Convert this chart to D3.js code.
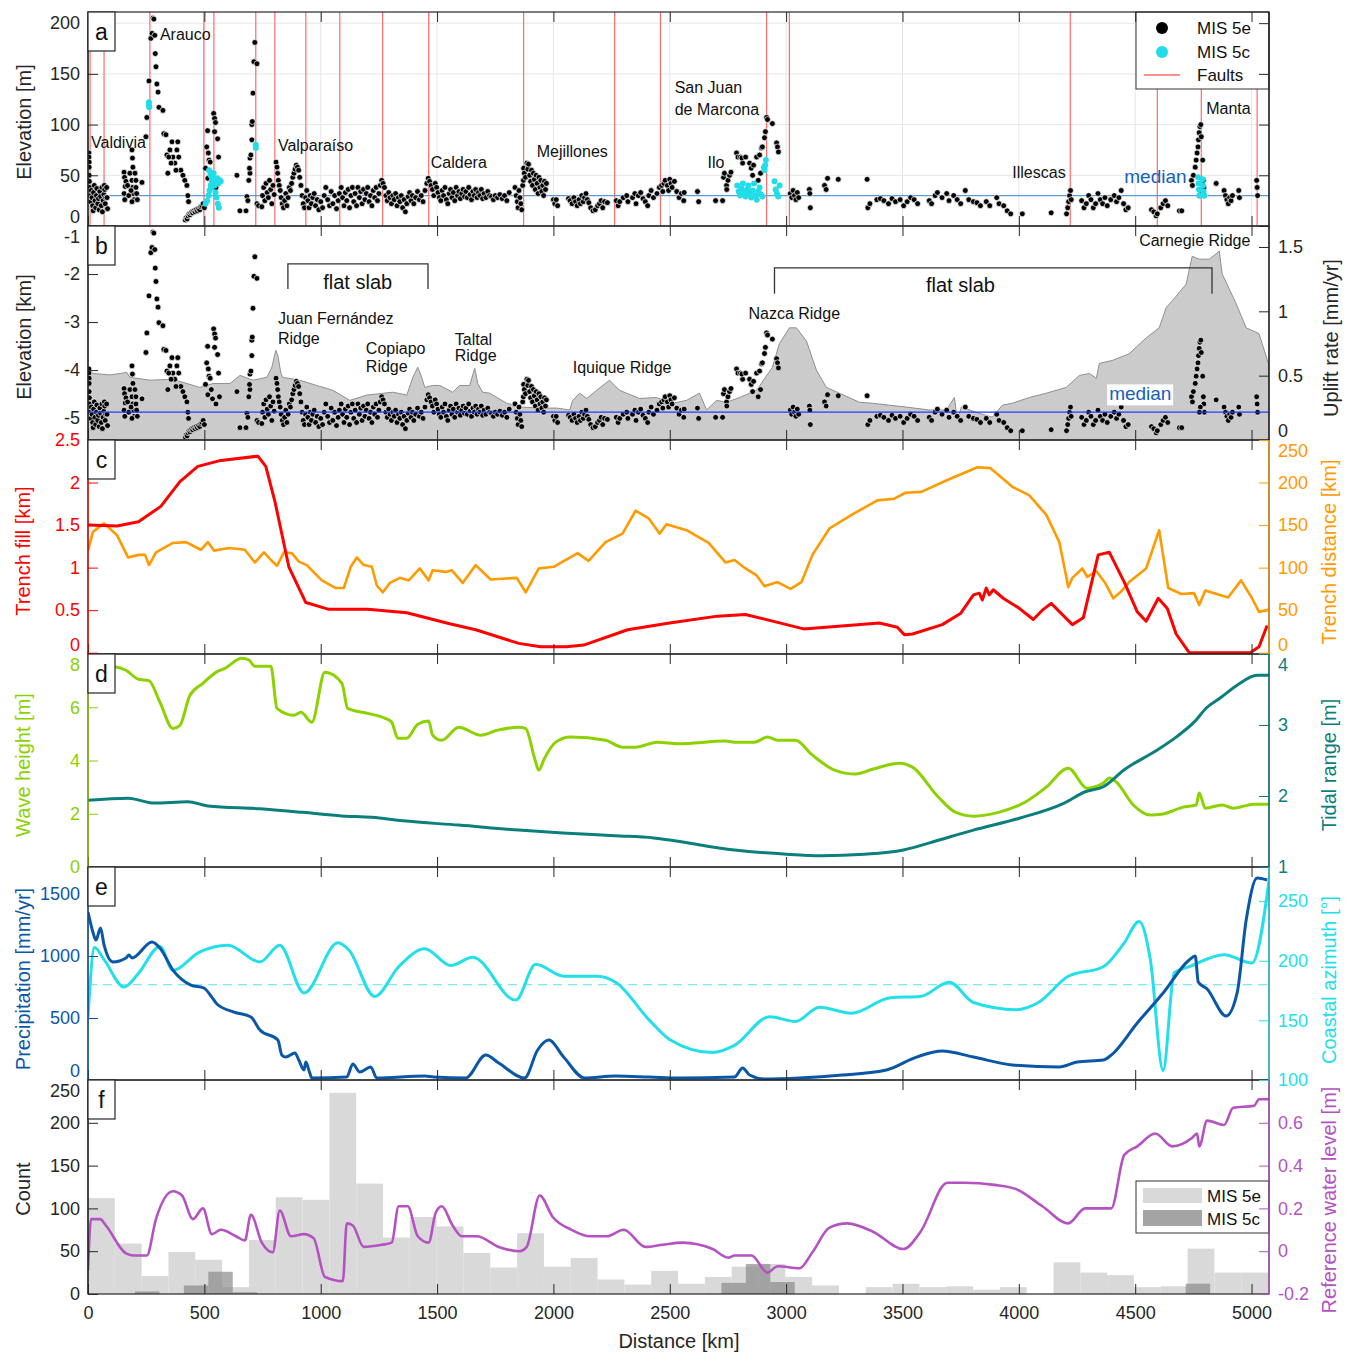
<!DOCTYPE html>
<html>
<head>
<meta charset="utf-8">
<script src="https://cdn.jsdelivr.net/npm/d3@7"></script>
<style>
  body { margin: 0; background: #fff; }
  text { font-family: "Liberation Sans", Arial, sans-serif; }
</style>
</head>
<body>
<svg id="chart" width="1349" height="1352"></svg>
<script>
// ---- data (distance along coast in km) ----
const faultKm = [9, 69, 266, 498, 541, 721, 803, 936, 1082, 1266, 1464, 1872, 2263, 2460, 2916, 3014, 4221, 4595, 4784, 5024];

// MIS 5e terrace elevations [km, m]
const mis5e = [
  [4,72],[4,68],[5,63],[5,58],[5,50],[6,44],[8,38],[10,30],[12,24],[14,35],[17,28],[20,20],[22,15],[24,33],[27,40],[30,25],[33,18],[36,30],[38,37],[42,22],[45,27],[48,16],[51,34],[54,29],[57,20],[60,38],[62,14],[65,25],[68,31],[70,40],[72,36],[74,22],[76,28],[80,38],[82,28],[84,17],
  [155,53],[157,48],[155,32],[158,26],[160,39],[163,44],[180,52],[189,75],[191,67],[193,58],[189,45],[192,38],[195,32],[198,26],[202,52],[206,45],[206,38],[209,32],[212,26],[189,24],[232,43],[170,40],[175,30],[185,35],
  [249,88],[253,107],[262,143],[270,185],[275,190],[279,205],[283,204],[287,188],[289,170],[292,157],[296,140],[301,132],[305,117],[322,114],[326,91],
  [335,90],[339,70],[343,52],[352,75],[361,83],[365,68],[373,62],[382,75],[386,83],[390,68],[399,55],[408,50],[416,45],[425,40],[429,30],[432,24],[347,68],[357,62],[378,55],
  [418,6],[422,8],[426,7],[430,10],[434,12],[438,11],[442,13],[446,14],[450,13],[455,15],[460,14],[465,16],[470,15],[475,17],[480,16],[485,19],[490,20],[495,22],[500,18],
  [505,57],[510,78],[514,94],[517,72],[520,65],[525,63],[540,111],[544,106],[548,102],[544,93],[557,86],[561,68],[515,47],[530,52],[535,43],[550,38],[565,45],
  [640,50],[653,15],[679,15],[683,29],[687,25],[691,45],[696,52],[694,57],[696,67],[700,70],[704,85],[704,100],[706,103],[709,131],[713,162],[717,181],[726,160],[726,22],[733,20],[747,19],
  [750,30],[755,38],[760,25],[765,42],[770,33],[775,28],[780,45],[785,36],[790,22],[795,40],[800,31],
  [808,63],[812,58],[815,52],[818,45],[822,40],[826,35],[830,28],[835,22],[840,18],[845,25],[850,32],[855,20],[860,28],[865,38],
  [870,35],[875,42],[880,48],[885,52],[890,56],[895,60],[900,58],[905,55],[910,48],[915,40],[920,30],[925,22],[930,18],[935,28],
  [940,35],[945,25],[950,18],[955,30],[960,22],[966,28],[972,32],[978,20],[985,26],[992,16],[1000,24],[1008,18],[1015,30],[1022,38],[1030,26],[1038,20],[1045,34],[1052,22],[1060,30],[1068,17],[1075,25],[1080,32],
  [1088,38],[1094,28],[1100,20],[1106,33],[1112,25],[1118,36],[1124,18],[1130,30],[1136,38],[1142,24],[1148,32],[1154,20],[1160,38],[1166,28],[1172,34],[1178,22],[1184,36],[1190,26],[1196,32],[1202,38],[1208,24],[1214,30],[1220,20],[1226,35],[1232,28],[1238,38],[1244,25],[1250,32],[1256,40],[1262,45],
  [1268,42],[1274,38],[1280,30],[1286,25],[1292,33],[1298,28],[1304,22],[1310,30],[1316,26],[1322,32],[1328,20],[1334,28],[1340,24],[1346,30],[1352,18],[1358,26],[1364,14],[1370,22],[1376,29],[1382,33],[1388,25],[1394,30],[1400,22],[1408,28],[1416,34],[1424,26],[1432,30],[1440,24],[1448,35],[1456,42],[1462,47],
  [1468,44],[1474,40],[1480,36],[1486,30],[1492,42],[1498,38],[1504,33],[1510,28],[1516,25],[1522,35],[1528,30],[1534,38],[1540,26],[1546,22],[1552,32],[1558,36],[1564,28],[1570,33],[1576,25],[1582,38],[1588,30],[1594,34],[1600,27],[1606,32],[1612,36],[1618,29],[1624,34],[1630,28],[1636,38],[1642,31],[1648,26],[1654,34],[1660,30],[1666,36],[1672,28],[1678,33],[1684,30],[1690,36],[1696,27],[1702,32],[1710,28],[1718,34],[1726,30],[1734,29],[1742,26],[1750,30],[1760,28],[1770,31],[1780,27],[1790,30],[1800,25],[1810,33],
  [1835,38],[1840,30],[1845,24],[1848,18],[1852,35],[1856,28],[1860,22],[1864,16],[1868,40],[1871,45],
  [1872,57],[1875,52],[1880,48],[1886,62],[1890,56],[1893,61],[1898,50],[1902,44],[1906,55],[1910,40],[1914,52],[1918,46],[1922,36],[1926,50],[1930,42],[1934,32],[1938,48],[1942,38],[1946,45],[1950,34],[1954,40],[1958,30],[1962,44],[1966,36],[1970,42],
  [2000,26],[2006,22],[2012,26],[2018,20],
  [2065,27],[2072,25],[2080,22],[2088,28],[2095,24],[2102,20],[2110,26],[2116,22],[2122,30],[2128,24],[2134,28],[2140,32],[2146,26],[2152,23],[2160,18],[2170,15],[2180,16],[2190,20],[2198,22],[2205,25],[2212,18],[2220,24],[2232,23],
  [2270,25],[2278,20],[2285,24],[2300,28],[2315,30],[2320,24],[2340,28],[2350,32],[2355,22],[2365,30],[2375,33],[2385,27],[2395,24],[2405,20],[2410,30],[2420,35],[2430,28],[2445,32],[2455,38],
  [2465,40],[2470,34],[2475,42],[2480,45],[2490,40],[2495,35],[2500,46],[2505,42],[2510,38],[2520,44],[2530,34],[2540,28],[2550,32],[2560,25],[2562,33],[2619,34],[2624,24],[2697,25],[2727,25],
  [2731,48],[2735,52],[2744,40],[2750,45],[2757,50],[2763,53],[2787,72],[2793,68],[2804,68],[2813,62],[2810,67],[2826,68],[2843,62],[2850,57],[2856,50],[2860,60],[2873,68],[2886,70],[2894,77],[2898,78],[2907,87],[2911,93],[2916,107],[2920,105],[2941,101],[2959,82],[2963,78],[2967,73],[2880,45],[2890,52],[2745,36],
  [3018,32],[3024,28],[3030,35],[3036,30],[3042,26],[3048,33],[3054,28],
  [3100,36],[3102,32],[3104,18],[3165,40],[3172,36],[3178,47],[3224,46],[3348,46],[3351,18],[3360,22],[3390,26],[3405,27],
  [3420,25],[3440,22],[3455,27],[3470,24],[3490,26],[3505,20],[3520,24],[3535,28],[3550,26],[3565,22],
  [3615,25],[3625,22],[3640,30],[3650,33],[3670,28],[3690,32],[3700,25],[3720,30],[3735,26],[3750,22],[3770,35],[3785,26],[3805,24],[3820,23],[3835,20],
  [3860,24],[3875,20],[3905,28],[3915,22],[3935,20],[3950,15],[3965,12],[4015,12],[4139,13],
  [4205,12],[4210,18],[4214,24],[4218,30],[4222,35],[4225,26],
  [4270,25],[4280,18],[4290,22],[4300,30],[4310,26],[4320,18],[4330,22],[4340,32],[4350,26],[4360,22],[4370,28],[4380,20],[4395,26],[4410,30],[4420,24],[4430,28],[4440,35],[4450,22],[4460,16],[4470,18],
  [4570,16],[4580,14],[4590,10],[4595,12],[4610,18],[4620,22],[4630,25],[4640,20],[4690,15],[4700,15],
  [4742,45],[4746,40],[4750,50],[4758,58],[4762,65],[4766,72],[4770,78],[4772,85],[4775,92],[4778,98],[4782,100],[4784,88],[4790,65],[4793,45],[4795,38],[4797,30],[4780,35],[4776,30],
  [4848,42],[4882,35],[4888,30],[4894,26],[4900,22],[4906,28],[4912,25],[4918,30],[4945,35],[4948,28],[5022,45],[5024,38],[5026,30]
];

// MIS 5c terrace elevations [km, m]
const mis5c = [
  [262,119],[262,122],[263,117],
  [505,22],[512,25],[518,30],[522,35],[527,40],[532,45],[536,48],[540,52],[544,40],[548,33],[552,28],[558,22],[562,18],[520,55],[526,50],[530,38],[546,44],[555,47],[560,42],[566,45],[570,44],
  [721,80],[721,77],
  [2790,40],[2796,34],[2802,30],[2808,37],[2814,42],[2820,33],[2826,29],[2832,36],[2838,40],[2844,32],[2850,28],[2856,35],[2862,42],[2868,30],[2874,26],[2880,34],[2886,38],[2892,31],[2898,29],
  [2905,58],[2907,55],[2910,60],[2913,65],[2950,44],[2955,36],[2960,32],[2966,29],[2972,40],
  [4770,48],[4772,42],[4774,36],[4776,30],[4790,46],[4792,40],[4794,34],[4796,30]
];
const medianElev = 30;
const mis5eAgeKa = 125;
const mis5eSeaLevel = 3;

// seafloor depth near trench [km, km]
const seafloor = [
  [0,-3.94],[21,-4.07],[94,-4.1],[167,-4.05],[180,-4.15],[266,-4.21],[365,-4.19],[425,-4.28],[481,-4.36],[537,-4.28],[610,-4.28],[653,-4.11],[709,-4.21],[769,-4.15],[790,-3.94],[807,-3.59],[816,-3.7],[829,-4.07],[837,-4.15],
  [910,-4.21],[983,-4.32],[1052,-4.42],[1125,-4.63],[1198,-4.52],[1310,-4.46],[1370,-4.52],[1396,-4.15],[1417,-3.94],[1434,-4.15],[1447,-4.36],[1481,-4.32],[1512,-4.32],[1567,-4.46],[1597,-4.32],[1640,-4.32],[1662,-3.96],[1675,-4.28],[1696,-4.46],
  [1726,-4.48],[1799,-4.69],[1868,-4.77],[1941,-4.79],[2014,-4.79],[2070,-4.83],[2083,-4.63],[2113,-4.48],[2143,-4.59],[2186,-4.42],[2241,-4.21],[2284,-4.42],[2314,-4.48],[2370,-4.59],[2443,-4.57],[2512,-4.69],[2572,-4.63],[2628,-4.48],[2658,-4.83],
  [2701,-4.63],[2744,-4.67],[2800,-4.57],[2873,-4.42],[2941,-3.94],[2971,-3.45],[3014,-3.12],[3044,-3.12],[3087,-3.39],[3130,-4.0],[3173,-4.36],[3229,-4.48],[3315,-4.67],[3371,-4.69],[3444,-4.73],[3517,-4.77],[3616,-4.83],[3689,-4.83],
  [3723,-4.57],[3736,-5.04],[3753,-4.77],[3830,-4.9],[3886,-4.98],[3929,-4.73],[3972,-4.69],[4045,-4.57],[4118,-4.48],[4204,-4.36],[4260,-4.11],[4303,-4.07],[4333,-4.17],[4346,-3.86],[4401,-3.8],[4474,-3.66],[4547,-3.33],[4603,-3.12],
  [4633,-2.7],[4659,-2.56],[4719,-2.21],[4745,-1.63],[4775,-1.69],[4818,-1.69],[4848,-1.58],[4861,-1.52],[4874,-2.0],[4934,-2.62],[4977,-3.12],[5032,-3.24],[5075,-3.9]
];

const trenchFill = [
  [0,1.50],[125,1.49],[217,1.54],[313,1.72],[395,2.01],[472,2.19],[571,2.26],[730,2.31],[764,2.19],[803,1.78],[863,1.01],[936,0.59],[1035,0.51],[1202,0.51],[1370,0.47],[1554,0.34],[1666,0.27],[1851,0.11],[1945,0.07],[2057,0.07],[2130,0.09],
  [2319,0.27],[2499,0.35],[2705,0.43],[2825,0.45],[3075,0.28],[3401,0.35],[3478,0.30],[3508,0.21],[3543,0.22],[3671,0.33],[3749,0.46],[3805,0.68],[3830,0.70],[3843,0.62],[3860,0.76],[3873,0.68],[3890,0.74],[3933,0.64],[3998,0.53],
  [4062,0.39],[4101,0.50],[4139,0.58],[4230,0.33],[4277,0.41],[4341,1.15],[4389,1.18],[4453,0.83],[4509,0.48],[4547,0.37],[4599,0.64],[4638,0.52],[4676,0.22],[4732,0.0],[4994,0.0],[5032,0.07],[5067,0.32]
];
const trenchDistance = [
  [0,120],[21,142],[69,152],[125,138],[172,112],[217,115],[245,115],[262,103],[292,118],[365,129],[421,130],[485,121],[515,130],[541,120],[605,123],[674,121],[717,106],[756,118],[786,109],[812,102],[842,118],[876,117],[906,107],[940,103],
  [1005,85],[1065,76],[1099,76],[1129,101],[1155,112],[1185,103],[1220,101],[1241,79],[1267,71],[1297,82],[1340,88],[1378,85],[1426,99],[1464,85],[1481,97],[1537,95],[1563,97],[1610,82],[1666,103],[1730,86],[1842,88],[1881,71],[1937,99],
  [2001,101],[2104,117],[2151,108],[2224,130],[2297,140],[2353,167],[2409,158],[2456,140],[2486,151],[2572,144],[2667,129],[2740,106],[2778,109],[2825,99],[2873,91],[2907,78],[2963,83],[3019,75],[3066,83],[3113,115],[3186,146],[3281,162],
  [3392,179],[3465,181],[3513,188],[3581,189],[3693,203],[3822,218],[3877,217],[3972,195],[4045,185],[4118,162],[4174,130],[4204,89],[4212,77],[4230,88],[4273,99],[4294,89],[4333,96],[4371,82],[4406,64],[4436,71],[4474,83],[4547,99],
  [4603,144],[4642,76],[4698,69],[4753,70],[4775,56],[4801,73],[4899,65],[4955,85],[5002,64],[5032,48],[5080,51]
];
const waveHeight = [
  [0,7.57],[125,7.5],[163,7.39],[217,7.05],[262,7.0],[309,6.19],[365,5.2],[395,5.32],[438,6.45],[494,6.9],[550,7.31],[588,7.46],[661,7.84],[691,7.78],[717,7.54],[786,7.54],[812,5.96],[885,5.7],[915,5.81],[962,5.44],[1018,7.31],[1091,6.9],
  [1116,5.96],[1202,5.77],[1275,5.59],[1305,5.44],[1331,4.84],[1370,4.84],[1417,5.36],[1464,5.48],[1481,4.95],[1520,4.76],[1593,5.25],[1688,4.95],[1761,5.14],[1851,5.25],[1881,5.2],[1919,4.09],[1937,3.64],[1962,4.09],[2010,4.69],
  [2074,4.88],[2224,4.76],[2297,4.5],[2353,4.5],[2447,4.69],[2538,4.63],[2740,4.73],[2778,4.69],[2864,4.69],[2920,4.88],[2963,4.76],[3040,4.76],[3113,4.2],[3208,3.64],[3298,3.49],[3375,3.68],[3487,3.9],[3543,3.75],[3654,2.63],
  [3727,2.06],[3805,1.91],[3916,2.06],[4028,2.44],[4118,3.0],[4212,3.71],[4294,2.96],[4363,3.15],[4389,3.34],[4419,3.19],[4492,2.33],[4565,1.95],[4620,1.99],[4706,2.25],[4762,2.33],[4775,2.78],[4801,2.21],[4874,2.33],[4921,2.21],[5011,2.36],[5080,2.36]
];
const tidalRange = [
  [0,1.94],[172,1.97],[283,1.9],[429,1.92],[515,1.86],[739,1.82],[923,1.77],[1091,1.72],[1220,1.70],[1353,1.65],[1593,1.59],[1851,1.52],[2040,1.48],[2263,1.44],[2430,1.41],[2499,1.38],[2778,1.24],[3002,1.18],[3152,1.16],
  [3336,1.18],[3504,1.24],[3616,1.34],[3805,1.52],[4006,1.69],[4195,1.9],[4285,2.06],[4363,2.13],[4453,2.37],[4586,2.63],[4676,2.83],[4753,3.04],[4809,3.25],[4865,3.38],[4938,3.56],[5024,3.7],[5080,3.7]
];
const precipitation = [
  [0,1355],[21,1194],[34,1129],[54,1226],[69,1089],[107,952],[163,984],[176,1008],[189,984],[275,1113],[309,1065],[365,887],[442,766],[498,742],[532,669],[554,613],[627,548],[700,508],[739,403],[816,322],[833,201],[850,185],[889,218],
  [906,161],[928,81],[936,145],[953,56],[962,16],[1112,24],[1138,129],[1168,64],[1215,105],[1241,16],[1447,32],[1486,24],[1623,16],[1709,201],[1765,137],[1876,16],[1932,242],[1980,322],[2044,185],[2134,16],[2267,32],[2413,24],[2542,16],
  [2778,24],[2813,97],[2843,40],[2907,8],[3057,16],[3242,40],[3431,81],[3560,185],[3671,234],[3805,185],[3972,121],[4174,105],[4251,145],[4363,161],[4397,201],[4509,460],[4620,702],[4732,968],[4758,1000],[4771,790],[4809,734],
  [4891,516],[4938,702],[4977,1290],[5024,1629],[5067,1613]
];
const coastAzimuth = [
  [0,153],[28,211],[69,201],[155,178],[219,190],[309,212],[365,192],[477,207],[601,213],[739,199],[824,213],[928,173],[1074,215],[1121,209],[1232,170],[1335,195],[1447,210],[1559,196],[1653,203],[1838,167],[1924,197],[2044,187],
  [2190,187],[2267,182],[2413,150],[2499,134],[2684,123],[2778,129],[2929,153],[3040,149],[3143,161],[3281,156],[3448,169],[3577,170],[3701,182],[3805,165],[3989,159],[4084,165],[4212,187],[4363,195],[4453,215],[4517,233],[4565,201],
  [4620,108],[4668,190],[4732,195],[4882,205],[5002,198],[5080,274]
];
const medianAzimuth = 180;
const refWaterLevel = [
  [0,-0.09],[13,0.15],[52,0.15],[77,0.12],[163,-0.01],[198,-0.02],[253,-0.02],[292,0.15],[365,0.28],[404,0.26],[451,0.15],[494,0.2],[532,0.08],[571,0.10],[636,0.07],[674,0.05],[700,0.17],[747,0.04],[794,-0.005],[824,0.19],
  [872,0.07],[928,0.08],[970,0.06],[1018,-0.12],[1095,-0.14],[1112,0.13],[1138,0.12],[1185,0.02],[1262,0.03],[1305,0.04],[1335,0.21],[1374,0.21],[1417,0.07],[1464,0.04],[1494,0.18],[1520,0.21],[1567,0.12],[1606,0.07],[1670,0.07],
  [1765,0.02],[1855,0.0],[1885,0.02],[1941,0.26],[1997,0.16],[2078,0.10],[2156,0.07],[2229,0.07],[2302,0.10],[2396,0.02],[2469,0.03],[2555,0.04],[2684,0.01],[2752,-0.03],[2778,-0.02],[2851,-0.02],[2920,-0.10],[2963,-0.07],
  [3057,-0.08],[3113,-0.005],[3186,0.11],[3263,0.13],[3375,0.09],[3504,0.01],[3577,0.09],[3693,0.32],[3766,0.32],[3895,0.31],[3989,0.29],[4101,0.21],[4212,0.13],[4285,0.2],[4363,0.2],[4397,0.2],[4453,0.45],[4509,0.49],[4586,0.55],
  [4659,0.49],[4745,0.53],[4766,0.55],[4775,0.49],[4809,0.61],[4882,0.59],[4921,0.67],[5011,0.68],[5032,0.71],[5080,0.71]
];

// histogram counts per bin
const hist5eStart = 0, hist5eWidth = 115.25;
const hist5e = [112,59,21,49,40,8,63,113,110,235,129,66,90,79,48,31,71,32,42,17,11,27,12,20,32,35,20,10,0,8,12,8,9,5,8,0,37,25,22,8,9,53,25,25];
const hist5cStart = 202, hist5cWidth = 105;
const hist5c = [3,0,10,26,2, 0,0,0,0,0,0,0,0,0,0,0,0,0,0,0,0,0,0,0, 13,35,14, 0,0,0,0,0,0,0,0,0,0,0,0,0,0,0,0, 12];

// tick values
const distTicks = [0,500,1000,1500,2000,2500,3000,3500,4000,4500,5000];
const elevTicks = [0,50,100,150,200];
const depthTicks = [-5,-4,-3,-2,-1];
const upliftTicks = [0,0.5,1,1.5];
const fillTicks = [0,0.5,1,1.5,2,2.5];
const trenchDistTicks = [0,50,100,150,200,250];
const waveTicks = [0,2,4,6,8];
const tideTicks = [1,2,3,4];
const precipTicks = [0,500,1000,1500];
const azimuthTicks = [100,150,200,250];
const countTicks = [0,50,100,150,200,250];
const waterTicks = [-0.2,0,0.2,0.4,0.6];

// ---- layout ----
const left = 88, right = 1269;
const P = { a: [12, 226], b: [226, 440], c: [440, 654], d: [654, 867], e: [867, 1080], f: [1080, 1294] };
const FONT = '"Liberation Sans", Arial, sans-serif';
const svg = d3.select('#chart');

const x = d3.scaleLinear().domain([0, 5075]).range([left, right]);

const yElev = d3.scaleLinear().domain([0, 211]).range([P.a[1], P.a[0]]);
const yDepth = d3.scaleLinear().domain([-5.455, -1]).range([P.b[1], P.b[0]]);
const yUplift = d3.scaleLinear().domain([0, 1.663]).range([P.b[1], P.b[0]]);
const yFill = d3.scaleLinear().domain([-0.015, 2.5]).range([P.c[1], P.c[0]]);
const yTDist = d3.scaleLinear().domain([-1.5, 250]).range([P.c[1], P.c[0]]);
const yWave = d3.scaleLinear().domain([0, 8]).range([P.d[1], P.d[0]]);
const yTide = d3.scaleLinear().domain([1, 4]).range([P.d[1], P.d[0]]);
const yPrecip = d3.scaleLinear().domain([0, 1718]).range([P.e[1], P.e[0]]);
const yAzim = d3.scaleLinear().domain([100, 278.6]).range([P.e[1], P.e[0]]);
const yCount = d3.scaleLinear().domain([0, 250]).range([P.f[1], P.f[0]]);
const yWater = d3.scaleLinear().domain([-0.2, 0.8]).range([P.f[1], P.f[0]]);

const defs = svg.append('defs');
Object.entries(P).forEach(([k, p]) => {
  defs.append('clipPath').attr('id', 'clip-' + k)
    .append('rect').attr('x', left).attr('y', p[0]).attr('width', right - left).attr('height', p[1] - p[0]);
});

function yAxis(side, scale, ticks, p, color, clampTop, clampBot, fmt) {
  const ax = (side === 'left' ? d3.axisLeft(scale) : d3.axisRight(scale))
    .tickValues(ticks).tickSize(-10).tickPadding(side === 'left' ? 8 : 9)
    .tickFormat(fmt === undefined ? (d => d) : fmt);
  const g = svg.append('g')
    .attr('transform', `translate(${side === 'left' ? left : right},0)`)
    .attr('font-family', FONT)
    .call(ax);
  g.select('.domain').remove();
  g.selectAll('.tick line').attr('stroke', color);
  g.selectAll('.tick text').attr('fill', color).attr('font-size', 18)
    .attr('y', d => {
      const y = scale(d);
      if (clampTop && y < p[0] + 11) return p[0] + 11 - y;
      if (clampBot && y > p[1] - 9) return p[1] - 9 - y;
      return 0;
    });
  g.append('line').attr('y1', p[0]).attr('y2', p[1]).attr('stroke', color).attr('stroke-width', 1.2);
}

function xTicks(p, labels) {
  const gb = svg.append('g').attr('transform', `translate(0,${p[1]})`).attr('font-family', FONT)
    .call(d3.axisBottom(x).tickValues(distTicks).tickSize(-10).tickPadding(12).tickFormat(labels ? (d => d) : ''));
  gb.select('.domain').remove();
  gb.selectAll('.tick line').attr('stroke', '#262626');
  gb.selectAll('.tick text').attr('fill', '#262626').attr('font-size', 18);
  const gt = svg.append('g').attr('transform', `translate(0,${p[0]})`)
    .call(d3.axisTop(x).tickValues(distTicks).tickSize(-10).tickFormat(''));
  gt.select('.domain').remove();
  gt.selectAll('.tick line').attr('stroke', '#262626');
}

function yTitle(label, cx, cy, color) {
  svg.append('text').attr('transform', `translate(${cx},${cy}) rotate(-90)`)
    .attr('text-anchor', 'middle').attr('dy', '0.35em')
    .attr('font-size', 20).attr('fill', color).text(label);
}

function lineOf(data, ys, color, width, curve, clip) {
  svg.append('path').datum(data)
    .attr('clip-path', `url(#clip-${clip})`)
    .attr('fill', 'none').attr('stroke', color).attr('stroke-width', width)
    .attr('stroke-linejoin', 'round')
    .attr('d', d3.line().x(d => x(d[0])).y(d => ys(d[1])).curve(curve));
}

function note(g, txt, kx, y, size, color, anchor) {
  return g.append('text').attr('x', kx).attr('y', y).attr('font-size', size)
    .attr('fill', color || '#111').attr('text-anchor', anchor || 'start').text(txt);
}

// ---- panel a ----
const ga = svg.append('g').attr('clip-path', 'url(#clip-a)');
ga.selectAll('line.gx').data(distTicks).join('line')
  .attr('x1', d => x(d)).attr('x2', d => x(d)).attr('y1', P.a[0]).attr('y2', P.a[1])
  .attr('stroke', '#e6e6e6');
ga.selectAll('line.gy').data(elevTicks).join('line')
  .attr('x1', left).attr('x2', right).attr('y1', d => yElev(d)).attr('y2', d => yElev(d))
  .attr('stroke', '#e6e6e6');
ga.selectAll('line.fault').data(faultKm).join('line')
  .attr('x1', d => x(d)).attr('x2', d => x(d)).attr('y1', P.a[0]).attr('y2', P.a[1])
  .attr('stroke', '#ff6b6b').attr('stroke-width', 1.2);
ga.append('line').attr('x1', left).attr('x2', right)
  .attr('y1', yElev(medianElev)).attr('y2', yElev(medianElev))
  .attr('stroke', '#5b9bd5').attr('stroke-width', 1.3);
ga.selectAll('circle.e').data(mis5e).join('circle')
  .attr('cx', d => x(d[0])).attr('cy', d => yElev(d[1])).attr('r', 2.9)
  .attr('fill', '#000').attr('stroke', '#fff').attr('stroke-width', 0.7);
ga.selectAll('circle.c').data(mis5c).join('circle')
  .attr('cx', d => x(d[0])).attr('cy', d => yElev(d[1])).attr('r', 3)
  .attr('fill', '#22dde9');

const annA = [
  ['Valdivia', 13, 77], ['Arauco', 309, 183], ['Valparaíso', 816, 74], ['Caldera', 1473, 57],
  ['Mejillones', 1928, 68], ['San Juan', 2521, 131], ['de Marcona', 2521, 109], ['Ilo', 2662, 57],
  ['Illescas', 3972, 47], ['Manta', 4805, 110]
];
annA.forEach(a => note(svg, a[0], x(a[1]), yElev(a[2]), 16));
note(svg, 'median', x(4453), yElev(42), 19, '#1560bd');

// legend a
const la = svg.append('g');
la.append('rect').attr('x', 1136).attr('y', P.a[0]).attr('width', right - 1136).attr('height', 77)
  .attr('fill', '#fff').attr('stroke', '#333');
la.append('circle').attr('cx', 1162).attr('cy', 28).attr('r', 6).attr('fill', '#000');
la.append('circle').attr('cx', 1162).attr('cy', 52).attr('r', 6).attr('fill', '#22dde9');
la.append('line').attr('x1', 1144).attr('x2', 1180).attr('y1', 75).attr('y2', 75).attr('stroke', '#ff6b6b').attr('stroke-width', 1.3);
note(la, 'MIS 5e', 1197, 34, 17);
note(la, 'MIS 5c', 1197, 58, 17);
note(la, 'Faults', 1197, 81, 17);

// ---- panel b ----
const gbp = svg.append('g').attr('clip-path', 'url(#clip-b)');
gbp.append('path').datum(seafloor)
  .attr('fill', '#cbcbcb').attr('stroke', '#8f8f8f').attr('stroke-width', 1)
  .attr('d', d3.area().x(d => x(d[0])).y0(P.b[1] + 2).y1(d => yDepth(d[1])));
const uplift = d => (d[1] - mis5eSeaLevel) / mis5eAgeKa;
gbp.selectAll('circle').data(mis5e).join('circle')
  .attr('cx', d => x(d[0])).attr('cy', d => yUplift(uplift(d))).attr('r', 2.9)
  .attr('fill', '#000').attr('stroke', '#fff').attr('stroke-width', 0.7);
const medUp = (medianElev - mis5eSeaLevel) / mis5eAgeKa;
gbp.append('line').attr('x1', left).attr('x2', right)
  .attr('y1', yUplift(medUp)).attr('y2', yUplift(medUp))
  .attr('stroke', '#1f3fff').attr('stroke-width', 1.2);

const slabs = [[859, 1461, -1.79, -2.31], [2950, 4830, -1.87, -2.41]];
slabs.forEach(s => {
  svg.append('path').attr('fill', 'none').attr('stroke', '#333').attr('stroke-width', 1.3)
    .attr('d', `M${x(s[0])},${yDepth(s[3])}V${yDepth(s[2])}H${x(s[1])}V${yDepth(s[3])}`);
});
note(svg, 'flat slab', x(1159), yDepth(-2.31), 20, '#111', 'middle');
note(svg, 'flat slab', x(3749), yDepth(-2.37), 20, '#111', 'middle');
const annB = [
  ['Juan Fernández', 816, -3.05], ['Ridge', 816, -3.45], ['Copiapo', 1194, -3.67], ['Ridge', 1194, -4.03],
  ['Taltal', 1576, -3.47], ['Ridge', 1576, -3.82], ['Iquique Ridge', 2083, -4.05], ['Nazca Ridge', 2838, -2.93],
  ['Carnegie Ridge', 4517, -1.42]
];
annB.forEach(a => note(svg, a[0], x(a[1]), yDepth(a[2]), 16));
svg.append('rect').attr('x', x(4388) - 2).attr('y', yDepth(-4.63) - 16).attr('width', 66).attr('height', 21).attr('fill', '#fff');
note(svg, 'median', x(4388), yDepth(-4.63), 19, '#1560bd');

// ---- panel c ----
lineOf(trenchDistance, yTDist, '#ff9a00', 2.6, d3.curveLinear, 'c');
lineOf(trenchFill, yFill, '#ff0000', 3, d3.curveLinear, 'c');

// ---- panel d ----
lineOf(waveHeight, yWave, '#8cd100', 3, d3.curveMonotoneX, 'd');
lineOf(tidalRange, yTide, '#0b7f7c', 3, d3.curveMonotoneX, 'd');

// ---- panel e ----
svg.append('line').attr('x1', left).attr('x2', right)
  .attr('y1', yAzim(medianAzimuth)).attr('y2', yAzim(medianAzimuth))
  .attr('stroke', '#7ee9f2').attr('stroke-width', 1.2).attr('stroke-dasharray', '9,6');
lineOf(coastAzimuth, yAzim, '#22dfea', 3, d3.curveMonotoneX, 'e');
lineOf(precipitation, yPrecip, '#0a57a8', 3, d3.curveMonotoneX, 'e');

// ---- panel f ----
const gf = svg.append('g').attr('clip-path', 'url(#clip-f)');
gf.selectAll('rect.e').data(hist5e).join('rect')
  .attr('x', (d, i) => x(hist5eStart + i * hist5eWidth))
  .attr('width', (d, i) => x(hist5eStart + (i + 1) * hist5eWidth) - x(hist5eStart + i * hist5eWidth))
  .attr('y', d => yCount(d)).attr('height', d => yCount(0) - yCount(d))
  .attr('fill', '#d9d9d9');
gf.selectAll('rect.c').data(hist5c).join('rect')
  .attr('x', (d, i) => x(hist5cStart + i * hist5cWidth))
  .attr('width', (d, i) => x(hist5cStart + (i + 1) * hist5cWidth) - x(hist5cStart + i * hist5cWidth))
  .attr('y', d => yCount(d)).attr('height', d => yCount(0) - yCount(d))
  .attr('fill', '#8a8a8a').attr('fill-opacity', 0.7);
lineOf(refWaterLevel, yWater, '#b452c2', 2.6, d3.curveMonotoneX, 'f');

const lf = svg.append('g');
lf.append('rect').attr('x', 1136).attr('y', 1181).attr('width', right - 1136).attr('height', 52)
  .attr('fill', '#fff').attr('stroke', '#333');
lf.append('rect').attr('x', 1143).attr('y', 1188).attr('width', 59).attr('height', 15).attr('fill', '#d9d9d9');
lf.append('rect').attr('x', 1143).attr('y', 1210).attr('width', 59).attr('height', 16).attr('fill', '#a4a4a4');
note(lf, 'MIS 5e', 1207, 1202, 17);
note(lf, 'MIS 5c', 1207, 1225, 17);

// ---- frames, axes ----
Object.values(P).forEach(p => {
  svg.append('rect').attr('x', left).attr('y', p[0]).attr('width', right - left).attr('height', p[1] - p[0])
    .attr('fill', 'none').attr('stroke', '#262626').attr('stroke-width', 1.2);
});
xTicks(P.a, false); xTicks(P.b, false); xTicks(P.c, false);
xTicks(P.d, false); xTicks(P.e, false); xTicks(P.f, true);

yAxis('left', yElev, elevTicks, P.a, '#262626', false, true);
yAxis('right', yElev, elevTicks, P.a, '#262626', false, false, '');
yAxis('left', yDepth, depthTicks, P.b, '#262626', true, false);
yAxis('right', yUplift, upliftTicks, P.b, '#262626', false, true);
yAxis('left', yFill, fillTicks, P.c, '#ff0000', false, true);
yAxis('right', yTDist, trenchDistTicks, P.c, '#ff9a00', true, true);
yAxis('left', yWave, waveTicks, P.d, '#8cd100', true, false);
yAxis('right', yTide, tideTicks, P.d, '#0b7f7c', true, false);
yAxis('left', yPrecip, precipTicks, P.e, '#0a57a8', false, true);
yAxis('right', yAzim, azimuthTicks, P.e, '#22dfea', false, false);
yAxis('left', yCount, countTicks, P.f, '#262626', true, false);
yAxis('right', yWater, waterTicks, P.f, '#b452c2', false, false);

yTitle('Elevation [m]', 24, 122, '#262626');
yTitle('Elevation [km]', 24, 337, '#262626');
yTitle('Trench fill [km]', 23, 551, '#ff0000');
yTitle('Wave height [m]', 23, 765, '#8cd100');
yTitle('Precipitation [mm/yr]', 23, 979, '#0a57a8');
yTitle('Count', 23, 1189, '#262626');
yTitle('Uplift rate [mm/yr]', 1331, 338, '#262626');
yTitle('Trench distance [km]', 1329, 552, '#ff9a00');
yTitle('Tidal range [m]', 1329, 765, '#0b7f7c');
yTitle('Coastal azimuth [°]', 1329, 980, '#22dfea');
yTitle('Reference water level [m]', 1329, 1200, '#b452c2');
svg.append('text').attr('x', 679).attr('y', 1341).attr('dy', '0.35em').attr('text-anchor', 'middle')
  .attr('font-size', 20).attr('fill', '#262626').text('Distance [km]');

// panel letters
Object.entries(P).forEach(([k, p]) => {
  svg.append('rect').attr('x', left).attr('y', p[0]).attr('width', 27).attr('height', 39)
    .attr('fill', '#fff').attr('stroke', '#262626').attr('stroke-width', 1.2);
  svg.append('text').attr('x', left + 13.5).attr('y', p[0] + 28).attr('text-anchor', 'middle')
    .attr('font-size', 23).attr('fill', '#111').text(k);
});
</script>
</body>
</html>
